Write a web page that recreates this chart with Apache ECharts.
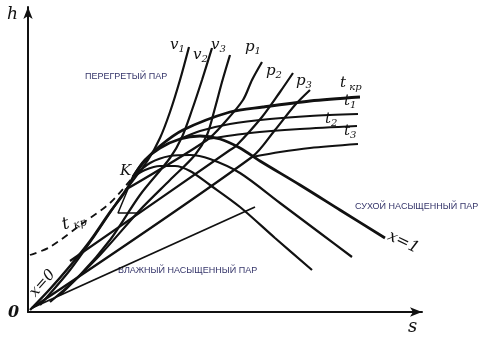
<!DOCTYPE html>
<html><head><meta charset="utf-8">
<script src="https://cdn.jsdelivr.net/npm/echarts@6/dist/echarts.min.js"></script>
<style>html,body{margin:0;padding:0;background:#fff}#c{width:488px;height:340px}</style>
</head><body><div id="c"></div>
<script>
// data in diagram units: s to the right of the origin, h above the origin
var x0Line   = [[2,2],[22,23],[42,46],[62,71],[82,100],[97,120],[105,135]];
var x1Line   = [[105,135],[117,152],[132,164],[152,173],[172,176],[192,173],[212,164],[232,151],[272,127],[312,102],[357,74]];
var xBLine   = [[105,135],[122,149],[142,156],[162,157],[182,153],[212,139],[252,109],[292,79],[324,55]];
var xCLine   = [[105,135],[117,142],[132,146],[147,146],[162,141],[182,127],[212,105],[247,74],[284,42]];
var tkrDash  = [[2,57],[22,65],[55,89],[82,109],[105,135]];
var tkrSolid = [[105,135],[115,149],[132,166],[155,182],[202,200],[235,205],[282,211],[332,215]];
var t1Line   = [[152,173],[172,181],[202,188],[242,193],[282,196],[330,198]];
var t2Line   = [[179,173],[222,179],[272,183],[329,186]];
var t3Line   = [[224,155],[252,160],[282,164],[330,168]];
var p1Line   = [[97,122],[179,172],[197,190],[215,212],[224,232],[234,250]];
var p2Line   = [[42,51],[202,162],[208,166],[234,195],[252,220],[265,239]];
var p3Line   = [[4,4],[224,155],[247,182],[267,207],[282,222]];
var v1Line   = [[12,7],[42,42],[67,77],[92,114],[120,152],[132,174],[142,200],[152,232],[161,265]];
var v2Line   = [[22,10],[52,37],[82,72],[112,117],[142,154],[154,175],[164,202],[174,232],[184,264]];
var v3Line   = [[32,17],[72,57],[112,102],[142,132],[167,157],[179,177],[187,204],[194,230],[202,257]];
var lowLine  = [[4,4],[227,105]];
var markA    = [[105,135],[90,99],[112,99]];

var chart = echarts.init(document.getElementById('c'));
function ln(data, w, opt){
  opt = opt || {};
  return {type:'line', data:data, symbol:'none', silent:true, smooth: opt.smooth===undefined?0.3:opt.smooth,
    lineStyle:{color:'#111', width:w, type: opt.dash? [7,5] : 'solid'}, z: opt.z||2};
}
var serif = '"DejaVu Serif", "Liberation Serif", serif';
function lbl(x, y, t, size){
  return {type:'text', left:x, top:y, style:{text:t, font:'italic '+size+'px '+serif, fill:'#111'}};
}
function sub(x, y, a, b){
  return {type:'text', left:x, top:y, style:{text:'{a|'+a+'}{b|'+b+'}', fill:'#111',
    rich:{a:{font:'italic 15px '+serif, fill:'#111'}, b:{font:'italic 10px '+serif, fill:'#111', padding:[8,0,0,0]}}}};
}
var region = function(x,y,t){return {type:'text', left:x, top:y, style:{text:t, font:'9px "Liberation Sans", Arial, sans-serif', fill:'#35356a'}};};

chart.setOption({
  animation:false,
  grid:{left:28, right:66, top:7, bottom:28},
  xAxis:{type:'value', min:0, max:394, axisLine:{show:true, onZero:false, symbol:['none','arrow'], symbolSize:[7,12], lineStyle:{color:'#111', width:2}},
    axisTick:{show:false}, axisLabel:{show:false}, splitLine:{show:false}},
  yAxis:{type:'value', min:0, max:305, axisLine:{show:true, onZero:false, symbol:['none','arrow'], symbolSize:[7,12], lineStyle:{color:'#111', width:2}},
    axisTick:{show:false}, axisLabel:{show:false}, splitLine:{show:false}},
  series:[
    ln(x0Line, 2.5), ln(x1Line, 2.8), ln(xBLine, 2.2), ln(xCLine, 2.2),
    ln(tkrDash, 1.8, {dash:true}), ln(tkrSolid, 2.8),
    ln(t1Line, 2.2), ln(t2Line, 2.2), ln(t3Line, 2.2),
    ln(p1Line, 2.2), ln(p2Line, 2.2), ln(p3Line, 2.2),
    ln(v1Line, 2.2), ln(v2Line, 2.2), ln(v3Line, 2.2),
    ln(lowLine, 1.8, {smooth:false}), ln(markA, 1.5, {smooth:false})
  ],
  graphic:[
    lbl(7, 6, 'h', 17),
    {type:'text', left:8, top:305, style:{text:'0', font:'italic bold 16px '+serif, fill:'#111'}},
    lbl(408, 318, 's', 18),
    lbl(120, 164, 'K', 15),
    sub(170, 38, 'v', '1'), sub(193, 48, 'v', '2'), sub(211, 38, 'v', '3'),
    sub(245, 40, 'p', '1'), sub(266, 64, 'p', '2'), sub(296, 74, 'p', '3'),
    sub(340, 76, 't', ' кр'), sub(344, 94, 't', '1'), sub(325, 112, 't', '2'), sub(344, 124, 't', '3'),
    {type:'text', left:60, top:210, rotation:0.3, style:{text:'{a|t}{b| кр}', rich:{a:{font:'italic 17px '+serif, fill:'#111'}, b:{font:'italic 11px '+serif, fill:'#111', padding:[8,0,0,0]}}}},
    {type:'text', x:38, y:300, rotation:0.85, style:{text:'x=0', font:'italic 15px '+serif, fill:'#111', verticalAlign:'bottom', textVerticalAlign:'bottom'}},
    {type:'text', x:392, y:228, rotation:-0.45, style:{text:'x=1', font:'italic 16px '+serif, fill:'#111'}},
    region(85, 72, 'ПЕРЕГРЕТЫЙ ПАР'),
    region(355, 202, 'СУХОЙ НАСЫЩЕННЫЙ ПАР'),
    region(118, 266, 'ВЛАЖНЫЙ НАСЫЩЕННЫЙ ПАР')
  ]
});
</script></body></html>
